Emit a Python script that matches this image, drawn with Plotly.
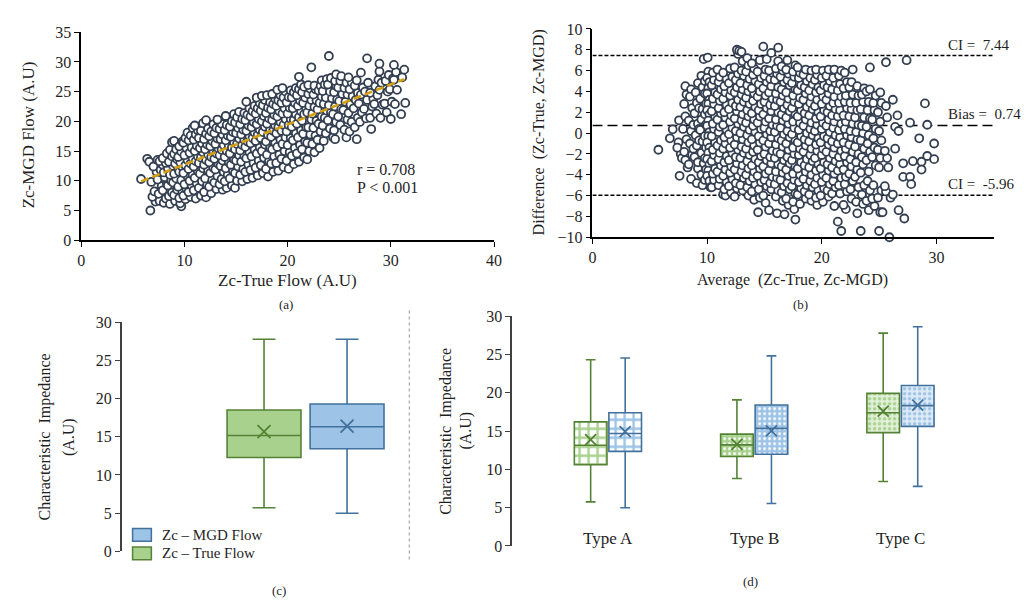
import plotly.graph_objects as go

W, H = 1031, 602
FONT = "Liberation Serif"
INK = "#1f1f1f"
RING = "#333f50"
GREEN_FILL, GREEN_LINE = "#a9d18e", "#548235"
BLUE_FILL, BLUE_LINE = "#9dc3e6", "#41719c"

# ---------------- (a) Zc-True vs Zc-MGD scatter
a_points = [
    (5.8, 10.3), (6.4, 13.7), (6.6, 13.2),
    (6.7, 5.0), (7.2, 6.5), (6.9, 7.3), (7.1, 8.2), (6.8, 9.8), (7.3, 11.5), (7.0, 12.4), (7.4, 13.5),
    (7.6, 6.6), (7.5, 7.8), (7.8, 9.1), (7.4, 10.2), (7.7, 11.8), (7.9, 12.7), (7.6, 13.3),
    (8.0, 6.3), (8.2, 7.0), (7.9, 8.4), (8.3, 9.5), (8.1, 10.6), (8.0, 11.4), (8.4, 12.1), (8.2, 13.0), (7.9, 13.8), (8.3, 14.6),
    (8.6, 6.1), (8.5, 7.4), (8.8, 8.0), (8.4, 9.2), (8.7, 10.0), (8.6, 11.0), (8.9, 12.5), (8.5, 13.2), (8.8, 14.1), (8.6, 15.2), (8.8, 16.5),
    (9.7, 5.7), (9.1, 6.6), (9.0, 7.6), (9.3, 8.5), (8.9, 9.7), (9.2, 10.4), (9.0, 11.2), (9.4, 12.0), (9.1, 12.9), (9.3, 13.6), (9.0, 14.5), (9.2, 15.3), (9.0, 16.7),
    (9.6, 6.2), (9.5, 7.1), (9.8, 8.2), (9.4, 9.0), (9.7, 10.1), (9.5, 11.5), (9.8, 12.3), (9.6, 13.1), (9.4, 14.0), (9.7, 14.9), (9.5, 15.8), (9.8, 16.6),
    (10.1, 6.9), (9.9, 7.5), (10.2, 8.6), (10.0, 9.4), (10.3, 10.7), (9.9, 11.3), (10.1, 12.6), (10.3, 13.5), (10.0, 14.3), (10.2, 15.5), (9.9, 16.4), (10.1, 17.2), (10.3, 18.1),
    (10.6, 7.3), (10.4, 8.1), (10.7, 9.2), (10.5, 10.0), (10.8, 11.0), (10.4, 12.0), (10.6, 12.9), (10.8, 13.8), (10.5, 14.7), (10.7, 15.6), (10.4, 16.8), (10.6, 17.6), (10.8, 18.9),
    (11.1, 7.0), (10.9, 8.4), (11.2, 9.6), (11.0, 10.5), (11.3, 11.6), (10.9, 12.4), (11.1, 13.3), (11.3, 14.1), (11.0, 15.0), (11.2, 15.9), (10.9, 16.9), (11.1, 17.8), (11.3, 18.5), (11.0, 19.3),
    (11.6, 7.5), (11.4, 8.8), (11.7, 9.9), (11.5, 11.2), (11.8, 12.1), (11.4, 13.0), (11.6, 13.9), (11.8, 14.8), (11.5, 15.5), (11.7, 16.3), (11.4, 17.2), (11.6, 18.4), (11.8, 19.7),
    (12.1, 7.2), (11.9, 8.1), (12.2, 9.3), (12.0, 10.4), (12.3, 11.7), (11.9, 12.7), (12.1, 13.5), (12.3, 14.4), (12.0, 15.3), (12.2, 16.1), (11.9, 17.0), (12.1, 17.9), (12.3, 18.8), (12.1, 20.2),
    (12.6, 7.9), (12.4, 9.0), (12.7, 10.1), (12.5, 11.3), (12.8, 12.2), (12.4, 13.1), (12.6, 14.0), (12.8, 15.0), (12.5, 15.8), (12.7, 16.7), (12.4, 17.5), (12.6, 18.3), (12.8, 19.5),
    (13.1, 8.6), (12.9, 9.7), (13.2, 10.8), (13.0, 11.9), (13.3, 12.8), (12.9, 13.7), (13.1, 14.6), (13.3, 15.4), (13.0, 16.2), (13.2, 17.1), (12.9, 18.0), (13.1, 18.9), (13.3, 20.0),
    (13.7, 8.5), (13.4, 9.4), (13.6, 10.3), (13.8, 11.5), (13.5, 12.5), (13.7, 13.4), (13.4, 14.3), (13.6, 15.2), (13.8, 16.0), (13.5, 17.0), (13.7, 17.8), (13.4, 18.7), (13.6, 19.6), (13.2, 20.3),
    (14.1, 8.8), (13.9, 9.9), (14.2, 11.0), (14.0, 12.1), (14.3, 13.1), (13.9, 14.0), (14.1, 15.0), (14.3, 15.9), (14.0, 16.8), (14.2, 17.6), (13.9, 18.5), (14.1, 19.4), (14.0, 20.9),
    (14.6, 9.2), (14.4, 10.4), (14.7, 11.6), (14.5, 12.7), (14.8, 13.6), (14.4, 14.6), (14.6, 15.6), (14.8, 16.5), (14.5, 17.4), (14.7, 18.2), (14.4, 19.1), (14.6, 20.0), (14.8, 21.2),
    (14.9, 8.8), (15.1, 10.0), (14.9, 11.3), (15.2, 12.4), (15.0, 13.4), (15.3, 14.3), (14.9, 15.3), (15.1, 16.2), (15.3, 17.1), (15.0, 18.0), (15.2, 18.9), (14.9, 19.8), (15.1, 20.7), (15.3, 21.6),
    (15.6, 9.9), (15.4, 11.0), (15.7, 12.0), (15.5, 13.2), (15.8, 14.2), (15.4, 15.1), (15.6, 16.0), (15.8, 16.9), (15.5, 17.8), (15.7, 18.6), (15.4, 19.5), (15.6, 20.4), (15.8, 21.4),
    (16.1, 10.3), (15.9, 11.5), (16.2, 12.7), (16.0, 13.8), (16.3, 14.8), (15.9, 15.7), (16.1, 16.6), (16.3, 17.5), (16.0, 18.4), (16.2, 19.3), (15.9, 20.2), (16.1, 21.1), (16.3, 22.2), (16.0, 23.3),
    (16.6, 10.5), (16.4, 11.8), (16.7, 13.0), (16.5, 14.1), (16.8, 15.2), (16.4, 16.3), (16.6, 17.2), (16.8, 18.1), (16.5, 19.0), (16.7, 19.9), (16.4, 20.8), (16.6, 21.7), (16.8, 22.6),
    (17.1, 10.9), (16.9, 12.2), (17.2, 13.4), (17.0, 14.6), (17.3, 15.6), (16.9, 16.7), (17.1, 17.7), (17.3, 18.6), (17.0, 19.5), (17.2, 20.4), (16.9, 21.3), (17.1, 22.2), (17.3, 23.1), (17.0, 24.0),
    (17.6, 11.3), (17.4, 12.6), (17.7, 13.9), (17.5, 15.0), (17.8, 16.1), (17.4, 17.2), (17.6, 18.2), (17.8, 19.1), (17.5, 20.0), (17.7, 20.9), (17.4, 21.8), (17.6, 22.7), (17.8, 23.6), (17.5, 24.3),
    (18.1, 10.7), (17.9, 12.0), (18.2, 13.3), (18.0, 14.4), (18.3, 15.5), (17.9, 16.6), (18.1, 17.7), (18.3, 18.7), (18.0, 19.6), (18.2, 20.5), (17.9, 21.4), (18.1, 22.3), (18.3, 23.2), (18.0, 24.4),
    (18.6, 11.5), (18.4, 12.9), (18.7, 14.1), (18.5, 15.3), (18.8, 16.4), (18.4, 17.4), (18.6, 18.4), (18.8, 19.3), (18.5, 20.2), (18.7, 21.1), (18.4, 22.0), (18.6, 22.9), (18.8, 23.8), (18.5, 24.6),
    (19.1, 11.7), (18.9, 13.0), (19.2, 14.4), (19.0, 15.7), (19.3, 16.9), (18.9, 18.0), (19.1, 19.0), (19.3, 19.9), (19.0, 20.8), (19.2, 21.7), (18.9, 22.6), (19.1, 23.5), (19.3, 24.4), (19.0, 25.3),
    (19.6, 12.3), (19.4, 13.7), (19.7, 15.0), (19.5, 16.2), (19.8, 17.3), (19.4, 18.4), (19.6, 19.4), (19.8, 20.4), (19.5, 21.3), (19.7, 22.2), (19.4, 23.1), (19.6, 24.0), (19.8, 25.0), (19.5, 25.6),
    (20.1, 12.0), (19.9, 13.4), (20.2, 14.8), (20.0, 16.0), (20.3, 17.2), (19.9, 18.3), (20.1, 19.4), (20.3, 20.4), (20.0, 21.3), (20.2, 22.3), (19.9, 23.2), (20.1, 24.1), (20.3, 25.2),
    (20.6, 12.8), (20.4, 14.2), (20.7, 15.5), (20.5, 16.8), (20.8, 18.0), (20.4, 19.1), (20.6, 20.2), (20.8, 21.2), (20.5, 22.2), (20.7, 23.1), (20.4, 24.0), (20.6, 24.9), (20.8, 25.6),
    (21.1, 13.2), (20.9, 14.6), (21.2, 16.0), (21.0, 17.3), (21.3, 18.5), (20.9, 19.6), (21.1, 20.7), (21.3, 21.7), (21.0, 22.6), (21.2, 23.5), (20.9, 24.4), (21.1, 25.4), (21.3, 26.2), (21.1, 27.5),
    (21.6, 13.9), (21.4, 15.3), (21.7, 16.6), (21.5, 17.9), (21.8, 19.0), (21.4, 20.1), (21.6, 21.2), (21.8, 22.2), (21.5, 23.1), (21.7, 24.0), (21.4, 24.9), (21.6, 25.8),
    (21.9, 13.6), (22.1, 15.0), (21.9, 16.4), (22.2, 17.8), (22.0, 19.0), (22.3, 20.3), (21.9, 21.5), (22.1, 22.6), (22.3, 23.6), (22.0, 24.6), (22.2, 25.5), (22.0, 26.1),
    (22.6, 14.8), (22.4, 16.2), (22.7, 17.6), (22.5, 18.9), (22.8, 20.1), (22.4, 21.3), (22.6, 22.4), (22.8, 23.5), (22.5, 24.5), (22.7, 25.4), (22.6, 26.0), (22.3, 29.1),
    (23.1, 15.5), (22.9, 16.9), (23.2, 18.3), (23.0, 19.6), (23.3, 20.8), (22.9, 22.0), (23.1, 23.1), (23.3, 24.2), (23.0, 25.2), (23.2, 26.0), (23.3, 26.9),
    (23.5, 16.7), (23.7, 18.0), (23.4, 19.3), (23.6, 20.6), (23.8, 21.8), (23.5, 22.9), (23.7, 24.0), (23.4, 25.1), (23.6, 26.2), (23.8, 27.1),
    (24.4, 17.3), (24.1, 18.8), (23.9, 20.2), (24.2, 21.5), (24.0, 22.7), (24.3, 23.9), (24.1, 25.0), (23.9, 26.2), (24.2, 27.3), (24.0, 31.0),
    (24.6, 17.0), (24.5, 18.5), (24.7, 19.9), (24.4, 21.2), (24.6, 22.5), (24.8, 23.7), (24.5, 24.9), (24.7, 26.0), (24.6, 26.8), (24.7, 27.9),
    (25.1, 19.4), (24.9, 20.8), (25.2, 22.1), (25.0, 23.4), (25.3, 24.6), (24.9, 25.7), (25.1, 26.8), (25.2, 27.6),
    (25.7, 17.3), (25.5, 18.6), (25.8, 20.3), (25.4, 21.9), (25.6, 23.3), (25.8, 24.5), (25.5, 25.6), (25.7, 26.5),
    (26.0, 18.3), (26.2, 19.9), (25.9, 21.4), (26.1, 22.8), (26.3, 24.2), (26.0, 25.4), (26.2, 26.6), (25.9, 27.4),
    (26.7, 17.0), (26.5, 19.0), (26.8, 20.6), (26.4, 22.2), (26.6, 23.6), (26.8, 24.8), (26.5, 26.0), (26.7, 26.9),
    (27.0, 19.9), (27.2, 21.5), (26.9, 23.0), (27.1, 24.5), (27.3, 25.7), (27.1, 28.2),
    (27.6, 20.5), (27.4, 22.1), (27.7, 23.6), (27.5, 25.0), (27.8, 26.5), (27.7, 30.6),
    (28.1, 18.7), (28.0, 20.6), (28.2, 22.5), (28.3, 23.8), (28.0, 24.8),
    (28.6, 21.3), (28.4, 22.9), (28.7, 24.4), (28.5, 25.9), (28.8, 27.0),
    (29.0, 20.6), (29.2, 22.8), (28.9, 25.3), (29.1, 26.5), (28.9, 28.4), (28.9, 29.7),
    (29.6, 21.5), (29.4, 23.0), (29.7, 25.0), (29.5, 26.8), (29.8, 27.8),
    (30.0, 20.4), (30.1, 23.3), (29.9, 25.4), (30.2, 27.2),
    (30.4, 22.9), (30.6, 25.3), (30.3, 27.0), (30.5, 28.3), (30.3, 29.5),
    (31.0, 21.2), (31.4, 23.1), (31.1, 27.4), (31.3, 28.7),
]
trend_x = [5.8, 31.3]
trend_y = [9.9, 27.1]
r_value = "r = 0.708"
p_value = "P < 0.001"

# ---------------- (b) Bland-Altman: average vs difference
b_points = [
    (5.75, -1.6), (6.75, -0.5), (7.0, 0.36), (7.55, 1.23), (7.6, -4.1), (7.5, -0.9), (7.7, -2.0), (7.4, -1.4), (7.8, -2.4),
    (8.1, 4.5), (8.2, 3.7), (8.0, 2.8), (8.1, 1.6), (7.9, 0.4), (8.2, -0.6), (8.0, -1.8), (8.1, -2.6), (8.3, -3.3),
    (8.6, 4.2), (8.5, 3.5), (8.7, 2.4), (8.4, 1.2), (8.6, 0.2), (8.5, -1.0), (8.7, -2.1), (8.4, -3.0), (8.6, -4.4), (8.8, -1.5), (8.8, 0.8),
    (9.2, 4.8), (9.0, 3.9), (9.1, 2.9), (8.9, 1.9), (9.2, 0.9), (9.0, -0.2), (9.1, -1.2), (8.9, -2.3), (9.2, -3.4), (9.1, -4.8), (9.3, 0.4), (9.3, -0.7), (9.2, -2.8), (9.3, 2.4),
    (9.5, 5.5), (9.6, 4.4), (9.4, 3.3), (9.6, 2.3), (9.5, 1.3), (9.4, 0.3), (9.6, -0.8), (9.5, -1.9), (9.7, -2.9), (9.5, -4.0), (9.6, -5.0),
    (9.8, 5.0), (9.8, 3.8), (9.9, 2.8), (9.8, 1.8), (9.9, 0.8), (9.8, -0.3), (9.9, -1.4), (9.8, -2.4), (9.9, -3.5), (9.8, -4.5),
    (9.7, 7.1), (10.05, 7.25), (10.1, 5.9), (10.0, 5.3), (10.2, 4.9), (10.1, 4.3), (10.0, 3.8), (10.2, 3.2), (10.1, 2.8), (10.0, 2.2),
    (10.2, 1.8), (10.1, 1.2), (10.0, 0.7), (10.2, 0.1), (10.1, -0.3), (10.0, -0.9), (10.2, -1.4), (10.1, -1.9), (10.0, -2.5), (10.2, -3.0),
    (10.1, -3.6), (10.0, -4.1), (10.2, -4.6), (10.3, -5.2),
    (10.4, -5.2), (10.6, -4.5), (10.5, -3.9), (10.7, -3.4), (10.4, -2.7), (10.6, -2.1), (10.5, -1.6), (10.7, -0.9), (10.4, -0.3), (10.6, 0.4),
    (10.5, 0.9), (10.7, 1.6), (10.4, 2.1), (10.6, 2.8), (10.5, 3.3), (10.7, 3.9), (10.4, 4.6), (10.6, 5.1), (10.5, 5.8),
    (11.4, -5.9), (11.0, -5.0), (11.1, -4.4), (10.9, -3.7), (11.2, -3.1), (11.0, -2.5), (11.1, -1.9), (10.9, -1.2), (11.2, -0.7), (11.0, 0.1),
    (11.1, 0.6), (10.9, 1.3), (11.2, 1.9), (11.0, 2.4), (11.1, 3.1), (10.9, 3.7), (11.2, 4.2), (11.0, 4.9), (11.1, 5.4), (10.9, 6.1),
    (11.6, -6.0), (11.5, -5.4), (11.7, -4.7), (11.4, -4.1), (11.6, -3.5), (11.5, -2.8), (11.7, -2.2), (11.4, -1.5), (11.6, -1.0), (11.5, -0.4),
    (11.7, 0.3), (11.4, 0.8), (11.6, 1.5), (11.5, 2.0), (11.7, 2.7), (11.4, 3.3), (11.6, 3.9), (11.5, 4.5), (11.7, 5.2), (11.4, 5.8),
    (12.1, -5.7), (11.9, -5.1), (12.2, -4.4), (12.0, -3.8), (12.1, -3.2), (11.9, -2.6), (12.2, -1.9), (12.0, -1.4), (12.1, -0.7), (11.9, -0.1),
    (12.2, 0.5), (12.0, 1.1), (12.1, 1.7), (11.9, 2.3), (12.2, 2.9), (12.0, 3.6), (12.1, 4.1), (11.9, 4.8), (12.2, 5.4), (12.0, 6.2),
    (12.4, -6.1), (12.6, -5.3), (12.5, -4.8), (12.7, -4.1), (12.4, -3.5), (12.6, -2.9), (12.5, -2.3), (12.7, -1.6), (12.4, -1.1), (12.6, -0.4),
    (12.5, 0.2), (12.7, 0.9), (12.4, 1.4), (12.6, 2.1), (12.5, 2.6), (12.7, 3.2), (12.4, 3.9), (12.6, 4.4), (12.5, 5.1), (12.7, 5.7),
    (12.4, 6.3), (12.7, 7.6), (12.6, 8.0), (12.8, 7.9),
    (13.1, -5.5), (12.9, -5.0), (13.2, -4.3), (13.0, -3.7), (13.1, -3.1), (12.9, -2.4), (13.2, -1.9), (13.0, -1.3), (13.1, -0.6), (12.9, 0.0),
    (13.2, 0.6), (13.0, 1.2), (13.1, 1.8), (12.9, 2.5), (13.2, 3.0), (13.0, 3.7), (13.1, 4.2), (12.9, 4.8), (13.2, 5.5), (13.0, 6.0), (13.1, 6.9), (13.0, 7.8),
    (13.6, -6.0), (13.5, -5.2), (13.7, -4.6), (13.4, -4.0), (13.6, -3.4), (13.5, -2.7), (13.7, -2.1), (13.4, -1.5), (13.6, -0.9), (13.5, -0.2),
    (13.7, 0.3), (13.4, 1.0), (13.6, 1.6), (13.5, 2.2), (13.7, 2.8), (13.4, 3.4), (13.6, 4.0), (13.5, 4.6), (13.7, 5.2), (13.4, 5.9), (13.6, 6.5), (13.5, 7.2),
    (14.1, -6.4), (13.9, -5.6), (14.2, -4.9), (14.0, -4.3), (14.1, -3.7), (13.9, -3.1), (14.2, -2.5), (14.0, -1.8), (14.1, -1.2), (13.9, -0.6),
    (14.2, 0.1), (14.0, 0.7), (14.1, 1.3), (13.9, 1.9), (14.2, 2.5), (14.0, 3.1), (14.1, 3.8), (13.9, 4.3), (14.2, 5.0), (14.0, 5.6), (14.1, 6.2), (13.9, 6.7),
    (14.45, -7.6), (14.6, -6.2), (14.5, -5.4), (14.7, -4.7), (14.4, -4.1), (14.6, -3.4), (14.5, -2.8), (14.7, -2.2), (14.4, -1.6), (14.6, -0.9),
    (14.5, -0.3), (14.7, 0.4), (14.4, 1.0), (14.6, 1.6), (14.5, 2.2), (14.7, 2.8), (14.4, 3.5), (14.6, 4.0), (14.5, 4.7), (14.7, 5.3), (14.4, 5.9), (14.6, 7.0),
    (15.1, -6.7), (14.9, -6.0), (15.2, -5.1), (15.0, -4.5), (15.1, -3.9), (14.9, -3.2), (15.2, -2.6), (15.0, -2.0), (15.1, -1.3), (14.9, -0.7),
    (15.2, -0.1), (15.0, 0.5), (15.1, 1.1), (14.9, 1.8), (15.2, 2.4), (15.0, 3.0), (15.1, 3.6), (14.9, 4.3), (15.2, 4.9), (15.0, 5.5), (15.1, 6.1), (15.2, 7.1), (14.9, 8.3),
    (15.4, -7.4), (15.6, -5.4), (15.5, -4.8), (15.7, -4.2), (15.4, -3.6), (15.6, -2.9), (15.5, -2.3), (15.7, -1.7), (15.4, -1.0), (15.6, -0.4),
    (15.5, 0.2), (15.7, 0.8), (15.4, 1.4), (15.6, 2.1), (15.5, 2.7), (15.7, 3.3), (15.4, 3.9), (15.6, 4.5), (15.5, 5.2), (15.7, 5.8), (15.4, 6.0), (15.6, 7.7),
    (16.1, -7.7), (16.0, -6.1), (16.2, -5.5), (15.9, -4.9), (16.1, -4.3), (16.0, -3.7), (16.2, -3.0), (15.9, -2.4), (16.1, -1.8), (16.0, -1.1), (16.2, -0.5),
    (15.9, 0.1), (16.1, 0.7), (16.0, 1.3), (16.2, 2.0), (15.9, 2.6), (16.1, 3.2), (16.0, 3.8), (16.2, 4.4), (15.9, 5.1), (16.1, 5.7), (16.0, 6.2), (16.2, 6.9), (16.2, 8.2),
    (16.75, -7.8), (16.6, -6.5), (16.5, -5.7), (16.7, -5.1), (16.4, -4.5), (16.6, -3.8), (16.5, -3.2), (16.7, -2.6), (16.4, -2.0), (16.6, -1.3), (16.5, -0.7),
    (16.7, -0.1), (16.4, 0.5), (16.6, 1.2), (16.5, 1.8), (16.7, 2.4), (16.4, 3.0), (16.6, 3.6), (16.5, 4.2), (16.7, 4.9), (16.4, 5.4), (16.6, 6.0), (16.5, 6.4),
    (17.1, -6.9), (16.9, -6.3), (17.2, -5.4), (17.0, -4.8), (17.1, -4.1), (16.9, -3.5), (17.2, -2.9), (17.0, -2.3), (17.1, -1.6), (16.9, -1.0), (17.2, -0.4),
    (17.0, 0.2), (17.1, 0.9), (16.9, 1.5), (17.2, 2.1), (17.0, 2.7), (17.1, 3.3), (16.9, 3.9), (17.2, 4.6), (17.0, 5.1), (17.1, 5.7), (16.9, 6.1), (17.0, 7.0),
    (17.6, -7.3), (17.5, -6.6), (17.7, -5.8), (17.4, -5.1), (17.6, -4.5), (17.5, -3.9), (17.7, -3.2), (17.4, -2.6), (17.6, -2.0), (17.5, -1.4), (17.7, -0.7),
    (17.4, -0.1), (17.6, 0.5), (17.5, 1.1), (17.7, 1.8), (17.4, 2.4), (17.6, 3.0), (17.5, 3.6), (17.7, 4.2), (17.4, 4.8), (17.6, 5.4), (17.5, 5.9), (17.7, 6.5),
    (17.7, -8.3), (18.1, -6.8), (17.9, -5.9), (18.2, -5.3), (18.0, -4.7), (18.1, -4.0), (17.9, -3.4), (18.2, -2.8), (18.0, -2.1), (18.1, -1.5), (17.9, -0.9),
    (18.2, -0.3), (18.0, 0.3), (18.1, 1.0), (17.9, 1.6), (18.2, 2.2), (18.0, 2.8), (18.1, 3.4), (17.9, 4.1), (18.2, 4.6), (18.0, 5.3), (18.1, 5.8), (17.9, 6.3),
    (18.6, -6.3), (18.5, -5.6), (18.7, -5.0), (18.4, -4.4), (18.6, -3.7), (18.5, -3.1), (18.7, -2.5), (18.4, -1.8), (18.6, -1.2), (18.5, -0.6), (18.7, 0.0),
    (18.4, 0.7), (18.6, 1.3), (18.5, 1.9), (18.7, 2.5), (18.4, 3.2), (18.6, 3.8), (18.5, 4.4), (18.7, 5.0), (18.4, 5.6), (18.6, 6.1),
    (19.1, -6.5), (18.9, -5.9), (19.2, -5.2), (19.0, -4.6), (19.1, -4.0), (18.9, -3.3), (19.2, -2.7), (19.0, -2.1), (19.1, -1.5), (18.9, -0.8), (19.2, -0.2),
    (19.0, 0.4), (19.1, 1.0), (18.9, 1.7), (19.2, 2.3), (19.0, 2.9), (19.1, 3.5), (18.9, 4.1), (19.2, 4.7), (19.0, 5.3), (19.1, 6.0),
    (19.6, -6.9), (19.5, -6.2), (19.7, -5.5), (19.4, -4.9), (19.6, -4.3), (19.5, -3.6), (19.7, -3.0), (19.4, -2.4), (19.6, -1.7), (19.5, -1.1), (19.7, -0.5),
    (19.4, 0.2), (19.6, 0.8), (19.5, 1.4), (19.7, 2.0), (19.4, 2.6), (19.6, 3.2), (19.5, 3.9), (19.7, 4.4), (19.4, 5.1), (19.6, 5.6), (19.5, 6.1),
    (20.1, -6.6), (19.9, -6.0), (20.2, -5.3), (20.0, -4.7), (20.1, -4.0), (19.9, -3.4), (20.2, -2.8), (20.0, -2.1), (20.1, -1.5), (19.9, -0.9), (20.2, -0.3),
    (20.0, 0.4), (20.1, 1.0), (19.9, 1.6), (20.2, 2.2), (20.0, 2.8), (20.1, 3.5), (19.9, 4.1), (20.2, 4.6), (20.0, 5.3), (20.1, 6.0),
    (20.6, -6.1), (20.5, -5.5), (20.7, -4.9), (20.4, -4.3), (20.6, -3.6), (20.5, -3.0), (20.7, -2.4), (20.4, -1.8), (20.6, -1.1), (20.5, -0.5), (20.7, 0.1),
    (20.4, 0.7), (20.6, 1.3), (20.5, 2.0), (20.7, 2.6), (20.4, 3.2), (20.6, 3.8), (20.5, 4.4), (20.7, 5.0), (20.4, 5.5), (20.6, 6.1),
    (21.1, -7.0), (20.9, -5.8), (21.2, -5.2), (21.0, -4.6), (21.1, -3.9), (20.9, -3.3), (21.2, -2.7), (21.0, -2.0), (21.1, -1.4), (20.9, -0.8), (21.2, -0.2),
    (21.0, 0.5), (21.1, 1.1), (20.9, 1.7), (21.2, 2.3), (21.0, 2.9), (21.1, 3.5), (20.9, 4.2), (21.2, 4.8), (21.0, 5.3), (21.1, 6.1),
    (21.7, -9.4), (21.4, -8.5), (21.6, -5.8), (21.5, -5.0), (21.7, -4.3), (21.4, -3.6), (21.6, -3.0), (21.5, -2.3), (21.7, -1.7), (21.4, -1.0), (21.6, -0.4),
    (21.5, 0.3), (21.7, 0.9), (21.4, 1.6), (21.6, 2.2), (21.5, 2.9), (21.7, 3.5), (21.4, 4.1), (21.6, 4.7), (21.5, 5.5), (21.7, 6.0),
    (22.1, -7.3), (21.9, -6.9), (22.2, -5.6), (22.0, -4.9), (22.1, -4.2), (21.9, -3.5), (22.2, -2.8), (22.0, -2.2), (22.1, -1.5), (21.9, -0.9),
    (22.2, -0.2), (22.0, 0.4), (22.1, 1.1), (21.9, 1.7), (22.2, 2.4), (22.0, 3.0), (22.1, 3.6), (21.9, 4.3), (22.2, 4.9), (22.0, 5.8),
    (22.6, -6.3), (22.5, -5.4), (22.7, -4.6), (22.4, -3.9), (22.6, -3.2), (22.5, -2.5), (22.7, -1.8), (22.4, -1.1), (22.6, -0.4),
    (22.5, 0.2), (22.7, 0.9), (22.4, 1.6), (22.6, 2.3), (22.5, 2.9), (22.7, 3.7), (22.4, 4.4), (22.6, 4.9), (22.7, 6.1),
    (23.1, -7.7), (23.0, -6.6), (23.2, -5.2), (22.9, -4.2), (23.1, -3.5), (23.0, -2.8), (23.2, -2.0), (22.9, -1.3),
    (23.1, -0.6), (23.0, 0.1), (23.2, 0.8), (22.9, 1.5), (23.1, 2.2), (23.0, 2.9), (23.2, 3.6), (23.1, 4.5),
    (23.4, -9.4), (23.6, -6.8), (23.5, -5.9), (23.7, -5.0), (23.4, -3.8), (23.6, -3.0), (23.5, -2.3), (23.7, -1.5),
    (23.4, -0.7), (23.6, 0.0), (23.5, 0.7), (23.7, 1.5), (23.4, 2.3), (23.6, 3.0), (23.5, 3.7), (23.7, 4.3),
    (24.1, -7.4), (23.9, -6.5), (24.2, -5.5), (24.0, -4.6), (24.1, -3.7), (23.9, -2.6), (24.2, -1.8), (24.0, -1.0),
    (24.1, -0.2), (23.9, 0.6), (24.2, 1.4), (24.0, 2.2), (24.1, 3.0), (23.9, 4.0), (24.2, 4.2), (24.2, 6.3),
    (24.6, -7.0), (24.4, -6.3), (24.5, -5.0), (24.7, -3.1), (24.4, -2.3), (24.6, -1.4), (24.5, -0.5), (24.7, 0.4),
    (24.4, 1.3), (24.6, 2.2), (24.5, 2.9), (24.7, 3.6),
    (25.0, -9.4), (25.1, -7.6), (24.9, -6.2), (25.2, -5.5), (25.0, -3.3), (25.1, -2.4), (24.9, -1.6), (25.2, -0.7),
    (25.0, 0.2), (25.1, 1.1), (24.9, 2.0), (25.2, 2.9), (25.1, 3.9),
    (25.3, -7.6), (25.6, -5.6), (25.5, -5.1), (25.8, -3.3), (25.7, -2.4), (25.5, -1.7), (25.7, 1.5), (25.6, 2.6), (25.6, 6.8),
    (26.0, -6.2), (25.9, -10.0), (26.2, 3.2), (26.6, 1.7), (26.4, 0.6), (26.7, 0.2), (26.4, -1.5), (26.7, -7.4), (26.2, -5.9),
    (27.1, -2.9), (27.1, -4.2), (27.4, 7.0), (27.2, -8.2), (27.7, 1.0), (27.7, -4.2), (27.8, -4.9), (27.95, -2.7),
    (28.5, -0.5), (28.7, -2.75), (28.7, -3.5), (29.0, 2.85), (29.2, 0.8), (29.2, -2.2), (29.8, -1.0), (29.8, -2.5),
]
ci_upper = 7.44
bias = 0.74
ci_lower = -5.96

# ---------------- (c) overall box plots
overall_names = ["Zc – True Flow", "Zc – MGD Flow"]
overall_low = [5.72, 5.0]
overall_q1 = [12.29, 13.43]
overall_median = [15.17, 16.31]
overall_q3 = [18.5, 19.28]
overall_high = [27.75, 27.75]
overall_mean = [15.68, 16.4]

# ---------------- (d) box plots by type
types = ["Type A", "Type B", "Type C"]
true_low = [5.75, 8.8, 8.42]
true_q1 = [10.62, 11.68, 14.8]
true_median = [13.15, 13.2, 17.39]
true_q3 = [16.2, 14.6, 19.93]
true_high = [24.32, 19.08, 27.8]
true_mean = [13.88, 13.25, 17.6]
mgd_low = [4.99, 5.54, 7.78]
mgd_q1 = [12.35, 11.97, 15.61]
mgd_median = [14.68, 15.36, 18.32]
mgd_q3 = [17.39, 18.4, 20.95]
mgd_high = [24.54, 24.83, 28.64]
mgd_mean = [14.93, 15.02, 18.4]


def px(v):
    return v / W


def py(v):
    return 1 - v / H


tick_font = dict(family=FONT, size=16, color=INK)
ring = dict(size=8, color="white", line=dict(color=RING, width=1.8))
fig = go.Figure()

# (a)
fig.add_trace(go.Scatter(
    x=[p[0] for p in a_points], y=[p[1] for p in a_points], mode="markers", marker=ring,
    cliponaxis=False, showlegend=False, xaxis="x", yaxis="y"))
fig.add_trace(go.Scatter(
    x=trend_x, y=trend_y, mode="lines",
    line=dict(color="#d4a012", width=2.6, dash="8px,4px"),
    showlegend=False, xaxis="x", yaxis="y"))

# (b)
fig.add_trace(go.Scatter(
    x=[p[0] for p in b_points], y=[p[1] for p in b_points], mode="markers", marker=ring,
    cliponaxis=False, showlegend=False, xaxis="x2", yaxis="y2"))

# (c)
colours = [(GREEN_FILL, GREEN_LINE), (BLUE_FILL, BLUE_LINE)]
for i, (fill, edge) in enumerate(colours):
    fig.add_trace(go.Box(
        x=[i], q1=[overall_q1[i]], median=[overall_median[i]], q3=[overall_q3[i]],
        lowerfence=[overall_low[i]], upperfence=[overall_high[i]],
        width=0.89, whiskerwidth=0.31, fillcolor=fill, line=dict(color=edge, width=1.6),
        boxpoints=False, name=overall_names[i], showlegend=False, xaxis="x3", yaxis="y3"))
    fig.add_trace(go.Scatter(
        x=[i], y=[overall_mean[i]], mode="markers",
        marker=dict(symbol="x-thin", size=13, line=dict(color=edge, width=1.8)),
        showlegend=False, xaxis="x3", yaxis="y3"))

# (d)
off = 0.118
box_w = 0.223
series = [
    (-off, true_low, true_q1, true_median, true_q3, true_high, true_mean, GREEN_FILL, GREEN_LINE, "#e2f0d9"),
    (off, mgd_low, mgd_q1, mgd_median, mgd_q3, mgd_high, mgd_mean, BLUE_FILL, BLUE_LINE, "#deebf7"),
]
for shift, lo, q1, med, q3, hi, mean, fill, edge, pale in series:
    xs = [i + shift for i in range(len(types))]
    fig.add_trace(go.Bar(
        x=xs, y=[b - a for a, b in zip(q1, q3)], base=q1, width=box_w,
        marker=dict(color=fill, line=dict(width=0),
                    pattern=dict(shape=["+", ".", "."],
                                 bgcolor=["white", fill, pale],
                                 fgcolor=[fill, "white", fill],
                                 size=[9, 5, 5], solidity=[0.45, 0.25, 0.35],
                                 fillmode="replace")),
        showlegend=False, xaxis="x4", yaxis="y4"))
    fig.add_trace(go.Box(
        x=xs, q1=q1, median=med, q3=q3, lowerfence=lo, upperfence=hi,
        width=box_w, whiskerwidth=0.3, fillcolor="rgba(0,0,0,0)",
        line=dict(color=edge, width=1.6), boxpoints=False,
        showlegend=False, xaxis="x4", yaxis="y4"))
    fig.add_trace(go.Scatter(
        x=xs, y=mean, mode="markers",
        marker=dict(symbol="x-thin", size=11, line=dict(color=edge, width=1.8)),
        showlegend=False, xaxis="x4", yaxis="y4"))

axis_common = dict(showgrid=False, zeroline=False, showline=True, linewidth=1.5,
                   ticks="outside", ticklen=5, tickwidth=1.3, tickfont=tick_font)

fig.update_layout(
    width=W, height=H, margin=dict(l=0, r=0, t=0, b=0),
    paper_bgcolor="white", plot_bgcolor="white",
    font=dict(family=FONT, size=16, color=INK),
    barmode="overlay", boxmode="overlay", showlegend=False,
    xaxis=dict(domain=[px(70), px(487.7)], range=[0, 40], dtick=10, anchor="y",
               linecolor="black", tickcolor="black", **axis_common),
    yaxis=dict(domain=[py(230.7), py(16.7)], range=[0, 35], dtick=5, anchor="x",
               linecolor="black", tickcolor="black", **axis_common),
    xaxis2=dict(domain=[px(587.3), px(993.3)], range=[0, 35], tickvals=[0, 10, 20, 30], anchor="y2",
                linecolor="black", tickcolor="black", **axis_common),
    yaxis2=dict(domain=[py(227.7), py(13.3)], range=[-10, 10], dtick=2, anchor="x2",
                linecolor="black", tickcolor="black", **axis_common),
    xaxis3=dict(domain=[px(111), px(400)], range=[-1.714, 1.726], anchor="y3", visible=False),
    yaxis3=dict(domain=[py(551), py(315)], range=[0, 30], dtick=5, anchor="x3",
                linecolor="#404040", tickcolor="#404040", **axis_common),
    xaxis4=dict(domain=[px(506), px(1000)], range=[-0.655, 2.683], anchor="y4", visible=False),
    yaxis4=dict(domain=[py(545.3), py(309)], range=[0, 30], dtick=5, anchor="x4",
                linecolor="#404040", tickcolor="#404040", **axis_common),
)

# Bland-Altman reference lines
for val, dash in [(ci_upper, "4px,2px"), (bias, "10px,5px"), (ci_lower, "4px,2px")]:
    fig.add_shape(type="line", xref="x2", yref="y2", x0=0, x1=35, y0=val, y1=val,
                  line=dict(color="black", width=1.5, dash=dash), layer="below")

# separator between (c) and (d)
fig.add_shape(type="line", xref="paper", yref="paper", x0=px(402), x1=px(402), y0=py(303), y1=py(562),
              line=dict(color="#a6a6a6", width=1.2, dash="dot"))


def note(text, x, y, size=16, angle=0, anchor="center"):
    fig.add_annotation(text=text, xref="paper", yref="paper", x=px(x), y=py(y),
                       xanchor=anchor, yanchor="middle", showarrow=False, textangle=angle,
                       font=dict(family=FONT, size=size, color=INK))


# legend of (c): MGD row above True row
for (fill, edge), name, row in [(colours[1], overall_names[1], 534), (colours[0], overall_names[0], 553)]:
    fig.add_shape(type="rect", xref="paper", yref="paper", x0=px(122), x1=px(141),
                  y0=py(row + 6.5), y1=py(row - 6.5), fillcolor=fill, line=dict(color=edge, width=1.5))
    note(name, 150, row, 15, anchor="left")

note("Zc-True Flow (A.U)", 279, 272, 17)
note("Zc-MGD Flow (A.U)", 17, 122, 17, -90)
note("(a)", 277, 297, 13)
note(r_value, 347, 158, 16, anchor="left")
note(p_value, 347, 176, 16, anchor="left")
note("Average  (Zc-True, Zc-MGD)", 790, 272, 16)
note("Difference  (Zc-True, Zc-MGD)", 533, 120, 16, -90)
note("(b)", 798, 297, 13)
note("Characteristic  Impedance", 33, 433, 16, -90)
note("(A.U)", 57, 433, 16, -90)
note("(c)", 270, 591, 13)
note("Characteristic  Impedance", 439, 427, 16, -90)
note("(A.U)", 459, 427, 16, -90)
note("(d)", 747, 582, 13)

for label, val in [("CI =  " + f"{ci_upper:.2f}", ci_upper), ("Bias =  " + f"{bias:.2f}", bias),
                   ("CI =  " + f"{ci_lower:.2f}", ci_lower)]:
    fig.add_annotation(text=label, xref="paper", yref="y2", x=px(945), y=val, xanchor="left",
                       yanchor="bottom", yshift=1, showarrow=False,
                       font=dict(family=FONT, size=15, color=INK))

for i, t in enumerate(types):
    fig.add_annotation(text=t, xref="x4", yref="paper", x=i, y=py(538), xanchor="center",
                       yanchor="middle", showarrow=False, font=dict(family=FONT, size=17, color=INK))

fig.write_html("out.html")
